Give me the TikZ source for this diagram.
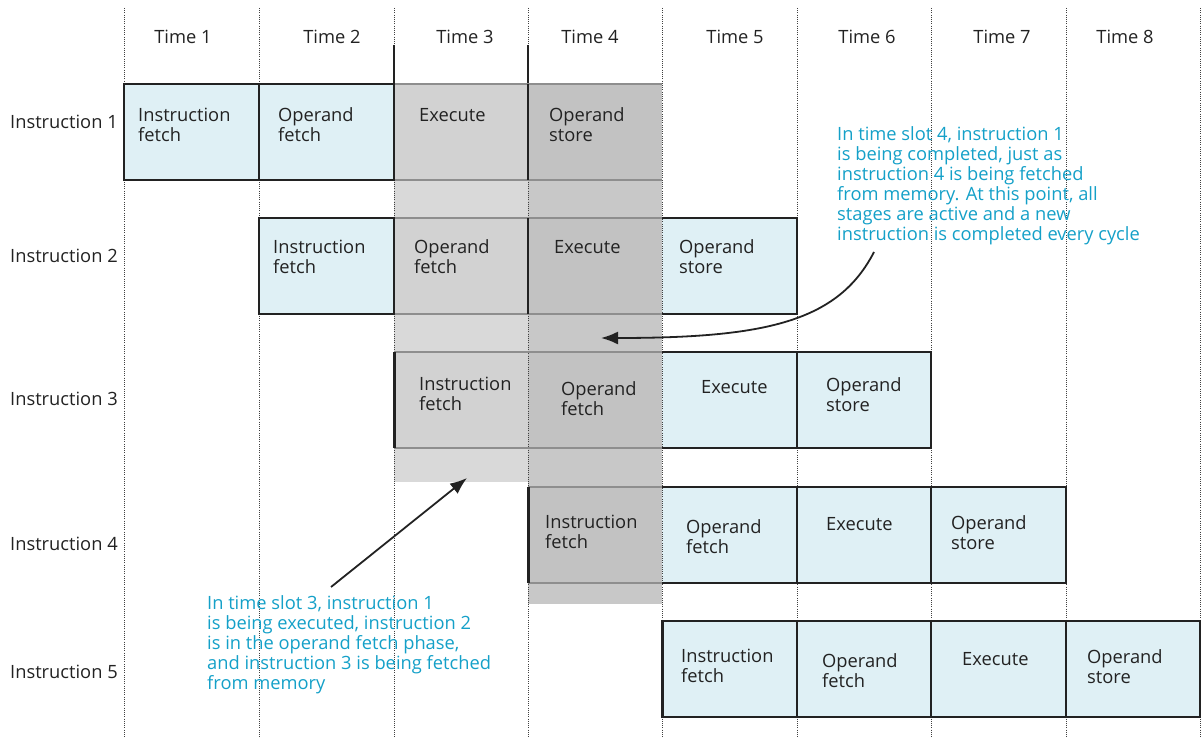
\documentclass[tikz,border=0pt]{standalone}
\usepackage{fontspec}
\setmainfont{Open Sans}
\usetikzlibrary{arrows.meta}
\definecolor{cellblue}{HTML}{DFF0F5}
\definecolor{graylt}{HTML}{D9D9D9}
\definecolor{graylt2}{HTML}{D2D2D2}
\definecolor{graydk}{HTML}{C8C8C8}
\definecolor{graydk2}{HTML}{C2C2C2}
\definecolor{edgegray}{HTML}{8E8E8E}
\definecolor{notecyan}{HTML}{14A0C8}
\definecolor{ink}{HTML}{222222}
\begin{document}
\begin{tikzpicture}[x=1pt,y=-1pt,
  lbl/.style={font=\fontsize{18.3}{20}\selectfont, text=ink, inner sep=0pt, anchor=west, align=left},
  hdr/.style={font=\fontsize{18.3}{20}\selectfont, text=ink, inner sep=0pt, anchor=center},
  notetext/.style={lbl, text=notecyan},
  box/.style={draw=ink, line width=2pt},
  thickedge/.style={draw=ink, line width=3pt},
  gedge/.style={draw=edgegray, line width=2pt},
  gridline/.style={draw=black!75, line width=0.9pt, dash pattern=on 1pt off 1.2pt},
  pointer/.style={draw=ink, line width=1.8pt, -{Latex[length=17pt,width=13pt]}}
]
\useasboundingbox (0,0) rectangle (1201,738);

% shaded time slots 3 and 4
\fill[graylt] (394,84) rectangle (528,482);
\fill[graydk] (528,84) rectangle (662,604);

% pipeline stage cells
\fill[cellblue] (124,84) rectangle (394,180);
\fill[cellblue] (259,218) rectangle (394,314);
\fill[cellblue] (662,218) rectangle (797,314);
\fill[cellblue] (662,352) rectangle (931,448);
\fill[cellblue] (662,487) rectangle (1066,583);
\fill[cellblue] (662,621) rectangle (1200,717);
\fill[graylt2] (394,84) rectangle (528,180);
\fill[graylt2] (394,218) rectangle (528,314);
\fill[graylt2] (394,352) rectangle (528,448);
\fill[graydk2] (528,84) rectangle (662,180);
\fill[graydk2] (528,218) rectangle (662,314);
\fill[graydk2] (528,352) rectangle (662,448);
\fill[graydk2] (528,487) rectangle (662,583);

% time slot separators
\foreach \x in {124,259,394,528,662,797,931,1066,1200}
  \draw[gridline] (\x,8) -- (\x,738);
\draw[draw=ink, line width=1.2pt] (394,45) -- (394,84);
\draw[draw=ink, line width=1.2pt] (528,45) -- (528,84);

% edges of the shaded cells
\foreach \ya/\yb in {84/180,218/314,352/448}{
  \draw[gedge] (394,\ya) -- (662,\ya);
  \draw[gedge] (394,\yb) -- (662,\yb);
}
\draw[gedge] (528,487) -- (662,487);
\draw[gedge] (528,583) -- (662,583);

% outlines of the stages
\draw[box] (124,84) rectangle (394,180);
\draw[box] (259,84) -- (259,180);
\draw[box] (528,84) -- (528,180);

\draw[box] (259,218) rectangle (394,314);
\draw[box] (528,218) -- (528,314);
\draw[box] (662,218) -- (797,218) -- (797,314) -- (662,314);

\draw[thickedge] (394,352) -- (394,448);
\draw[box] (662,352) -- (931,352) -- (931,448) -- (662,448);
\draw[box] (797,352) -- (797,448);

\draw[thickedge] (528,487) -- (528,583);
\draw[box] (662,487) -- (1066,487) -- (1066,583) -- (662,583);
\draw[box] (797,487) -- (797,583);
\draw[box] (931,487) -- (931,583);

\draw[box] (662,621) rectangle (1200,717);
\draw[thickedge] (662,621) -- (662,717);
\draw[box] (797,621) -- (797,717);
\draw[box] (931,621) -- (931,717);
\draw[box] (1066,621) -- (1066,717);

% column headings
\node[hdr] (t1) at (183,37) {Time 1};
\node[hdr] (t2) at (332,37) {Time 2};
\node[hdr] (t3) at (465,37) {Time 3};
\node[hdr] (t4) at (590,37) {Time 4};
\node[hdr] (t5) at (735,37) {Time 5};
\node[hdr] (t6) at (867,37) {Time 6};
\node[hdr] (t7) at (1002,37) {Time 7};
\node[hdr] (t8) at (1125,37) {Time 8};

% row headings
\node[lbl] (i1) at (10,122) {Instruction 1};
\node[lbl] (i2) at (10,256) {Instruction 2};
\node[lbl] (i3) at (10,399) {Instruction 3};
\node[lbl] (i4) at (10,544) {Instruction 4};
\node[lbl] (i5) at (10,672) {Instruction 5};

% stage names
\node[lbl] (c11) at (138,125) {Instruction\\fetch};
\node[lbl] (c12) at (278,125) {Operand\\fetch};
\node[lbl] (c13) at (419,115) {Execute};
\node[lbl] (c14) at (549,125) {Operand\\store};

\node[lbl] (c21) at (273,257) {Instruction\\fetch};
\node[lbl] (c22) at (414,257) {Operand\\fetch};
\node[lbl] (c23) at (554,247) {Execute};
\node[lbl] (c24) at (679,257) {Operand\\store};

\node[lbl] (c31) at (419,394) {Instruction\\fetch};
\node[lbl] (c32) at (561,399) {Operand\\fetch};
\node[lbl] (c33) at (701,387) {Execute};
\node[lbl] (c34) at (826,395) {Operand\\store};

\node[lbl] (c41) at (545,532) {Instruction\\fetch};
\node[lbl] (c42) at (686,537) {Operand\\fetch};
\node[lbl] (c43) at (826,524) {Execute};
\node[lbl] (c44) at (951,533) {Operand\\store};

\node[lbl] (c51) at (681,666) {Instruction\\fetch};
\node[lbl] (c52) at (822,671) {Operand\\fetch};
\node[lbl] (c53) at (962,659) {Execute};
\node[lbl] (c54) at (1087,667) {Operand\\store};

% annotations
\node[notetext] (n4) at (837,186) {In time slot 4, instruction 1\\is being completed, just as\\instruction 4 is being fetched\\from memory. At this point, all\\stages are active and a new\\instruction is completed every cycle};
\node[notetext] (n3) at (207,645) {In time slot 3, instruction 1\\is being executed, instruction 2\\is in the operand fetch phase,\\and instruction 3 is being fetched\\from memory};

\coordinate (a4s) at (874,252);
\coordinate (a4e) at (601,338);
\draw[pointer] (a4s) .. controls (838,322) and (765,338) .. (a4e);

\coordinate (a3s) at (331,587);
\coordinate (a3e) at (467,478);
\draw[pointer] (a3s) -- (a3e);
\end{tikzpicture}
\end{document}
